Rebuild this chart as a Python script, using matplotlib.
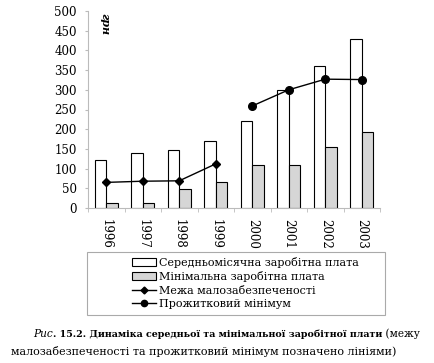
import matplotlib
matplotlib.use("Agg")
import matplotlib.pyplot as plt
from matplotlib.patches import Rectangle
from matplotlib.lines import Line2D
import numpy as np

years = ["1996", "1997", "1998", "1999", "2000", "2001", "2002", "2003"]
avg_wage = [123, 139, 147, 171, 221, 300, 360, 430]
min_wage = [13, 12, 49, 67, 110, 110, 156, 192]
poverty_line = [65, 68, 69, 112, None, None, None, None]
subsistence = [None, None, None, None, 259, 300, 327, 326]

labels = ["Середньомісячна заробітна плата", "Мінімальна заробітна плата",
          "Межа малозабезпеченості", "Прожитковий мінімум"]

plt.rcParams["font.family"] = "DejaVu Serif"

fig = plt.figure(figsize=(4.34, 3.63), dpi=100)
W, H = 434, 363
ax = fig.add_axes([88 / W, 1 - 208 / H, 292 / W, 197 / H])

x = np.arange(len(years))
bw = 0.31
ax.bar(x - bw / 2, avg_wage, bw, color="white", edgecolor="black", linewidth=0.8)
ax.bar(x + bw / 2, min_wage, bw, color="#d6d6d6", edgecolor="black", linewidth=0.8)

pl = np.array([np.nan if v is None else v for v in poverty_line], dtype=float)
sb = np.array([np.nan if v is None else v for v in subsistence], dtype=float)
ax.plot(x, pl, color="black", lw=1, marker="D", ms=4)
ax.plot(x, sb, color="black", lw=1, marker="o", ms=5.5)

ax.set_xlim(-0.5, len(years) - 0.5)
ax.set_ylim(0, 500)
ax.set_yticks(range(0, 501, 50))
ax.tick_params(axis="y", labelsize=8.5, length=2, color="#bbbbbb", pad=6)
ax.set_xticks(x)
ax.set_xticklabels(years, rotation=-90, fontsize=8.5)
ax.set_xticks(np.arange(-0.5, len(years)), minor=True)
ax.tick_params(axis="x", which="major", length=0, pad=8)
ax.tick_params(axis="x", which="minor", length=3, color="#bbbbbb")
for s in ["top", "right"]:
    ax.spines[s].set_visible(False)
for s in ["left", "bottom"]:
    ax.spines[s].set_color("#bbbbbb")
    ax.spines[s].set_linewidth(0.8)

ax.text((105 - 88) / 292, (208 - 13) / 197, "грн", rotation=-90, style="italic",
        fontweight="bold", fontsize=8, ha="center", va="top", transform=ax.transAxes)

# legend box
fig.patches.append(Rectangle((87 / W, 1 - 315 / H), 298 / W, 63 / H, transform=fig.transFigure,
                             fill=False, edgecolor="#aaaaaa", lw=0.8))
handles = [Rectangle((0, 0), 1, 1, facecolor="white", edgecolor="black", lw=0.8),
           Rectangle((0, 0), 1, 1, facecolor="#d6d6d6", edgecolor="black", lw=0.8),
           Line2D([], [], color="black", lw=1, marker="D", ms=3.5),
           Line2D([], [], color="black", lw=1, marker="o", ms=4.5)]
fig.legend(handles, labels, loc="upper left", bbox_to_anchor=(123 / W, 1 - 248 / H),
           frameon=False, fontsize=8, handlelength=2.2, handletextpad=0.2,
           labelspacing=0.3, borderpad=0.3)

# caption
fs = 7.6
t1 = fig.text(33 / W, 1 - 337 / H, "Рис", style="italic", fontsize=fs)
a2 = plt.annotate(". 15.2. Динаміка середньої та мінімальної заробітної плати", xy=(1, 0),
                  xycoords=t1, fontweight="bold", fontsize=6.8, va="bottom",
                  annotation_clip=False)
a3 = plt.annotate(" (межу", xy=(1, 0), xycoords=a2, fontsize=fs, va="bottom",
                  annotation_clip=False)
fig.text(11 / W, 1 - 355 / H, "малозабезпеченості та прожитковий мінімум позначено лініями)",
         fontsize=8)

fig.savefig("out.png", dpi=100)
